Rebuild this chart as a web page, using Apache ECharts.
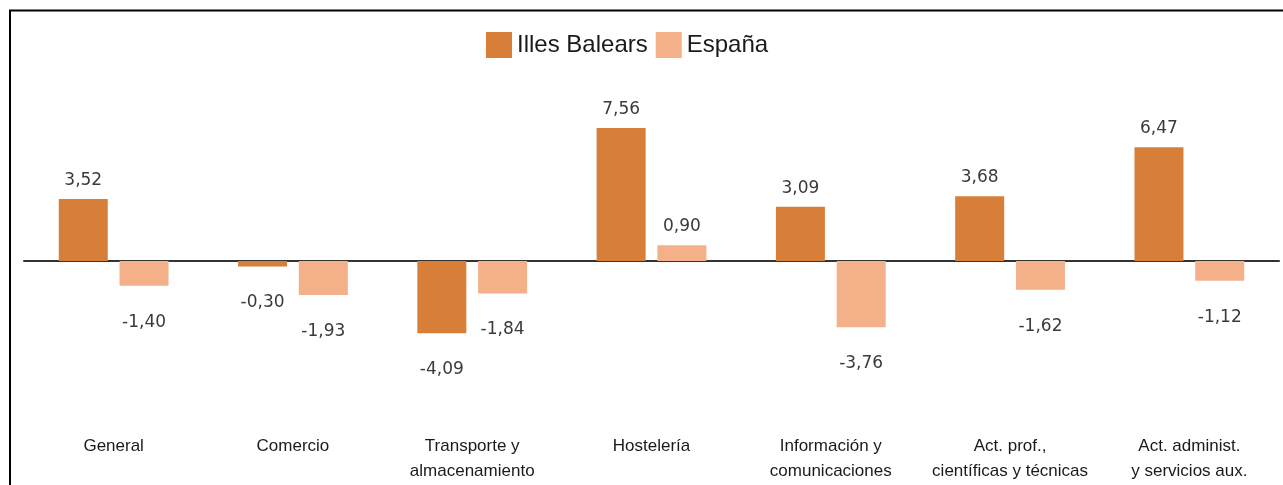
<!DOCTYPE html>
<html>
<head>
<meta charset="utf-8">
<script src="https://cdn.jsdelivr.net/npm/echarts@6/dist/echarts.min.js"></script>
<style>
html,body{margin:0;padding:0;background:#fff;}
#chart{width:1283px;height:485px;}
</style>
</head>
<body>
<div id="chart"></div>
<script>
const categories = ['General', 'Comercio', 'Transporte y\nalmacenamiento', 'Hostelería', 'Información y\ncomunicaciones', 'Act. prof.,\ncientíficas y técnicas', 'Act. administ.\ny servicios aux.'];
const seriesNames = ['Illes Balears', 'España'];
const balearesValues = [3.52, -0.30, -4.09, 7.56, 3.09, 3.68, 6.47];
const espanaValues = [-1.40, -1.93, -1.84, 0.90, -3.76, -1.62, -1.12];

function fmt(v){ return v.toFixed(2).replace('.', ','); }
function withLabels(arr){
  return arr.map(v => ({
    value: v,
    label: { position: v < 0 ? 'bottom' : 'top', distance: v < 0 ? 28 : 10 }
  }));
}

const chart = echarts.init(document.getElementById('chart'), null, {renderer:'canvas'});
const labelStyle = {
  show: true,
  formatter: p => fmt(p.value),
  fontFamily: 'DejaVu Sans',
  fontSize: 17,
  color: '#3a3a3a'
};
chart.setOption({
  animation: false,
  backgroundColor: '#ffffff',
  graphic: [{
    type: 'rect',
    shape: { x: 10, y: 10.5, width: 1400, height: 600 },
    style: { fill: 'none', stroke: '#000', lineWidth: 2 },
    silent: true
  }],
  legend: {
    left: 481, top: 27,
    itemWidth: 26, itemHeight: 26, itemGap: 8,
    icon: 'rect',
    textStyle: { fontFamily: 'Liberation Sans', fontSize: 24, color: '#1a1a1a' },
    data: seriesNames
  },
  grid: { left: 24, right: 4, top: 85, bottom: 83, containLabel: false },
  xAxis: [{
    type: 'category',
    data: categories,
    position: 'bottom',
    axisLine: { show: true, onZero: true, lineStyle: { color: '#333', width: 2 } },
    axisTick: { show: false },
    axisLabel: { show: false },
    splitLine: { show: false }
  }, {
    type: 'category',
    data: categories,
    position: 'bottom',
    axisLine: { show: false, onZero: false },
    axisTick: { show: false },
    axisLabel: {
      show: true, margin: 32, interval: 0,
      fontFamily: 'Liberation Sans', fontSize: 17, lineHeight: 25, color: '#1a1a1a'
    },
    splitLine: { show: false }
  }],
  yAxis: {
    type: 'value', min: -8, max: 10,
    show: false,
    splitLine: { show: false }
  },
  series: [{
    name: seriesNames[0],
    type: 'bar',
    xAxisIndex: 0,
    barWidth: 49,
    barGap: '24%',
    itemStyle: { color: '#D77F39' },
    label: labelStyle,
    data: withLabels(balearesValues)
  }, {
    name: seriesNames[1],
    type: 'bar',
    xAxisIndex: 0,
    barWidth: 49,
    barGap: '24%',
    itemStyle: { color: '#F3B089' },
    label: labelStyle,
    data: withLabels(espanaValues)
  }]
});
</script>
</body>
</html>
